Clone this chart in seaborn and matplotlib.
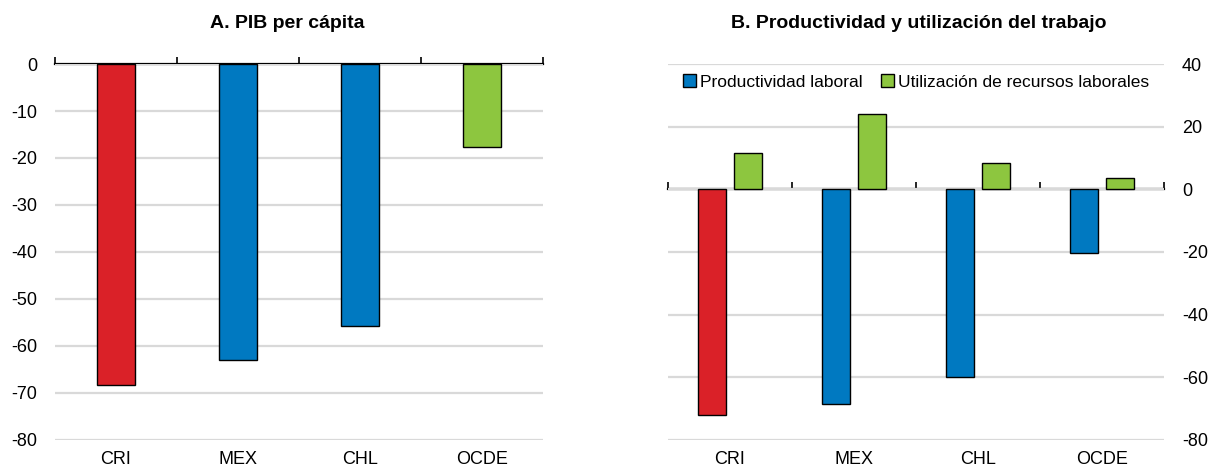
import pandas as pd
import seaborn as sns
import matplotlib.pyplot as plt
from matplotlib.patches import Patch

# data
countries = ['CRI', 'MEX', 'CHL', 'OCDE']
pib_per_capita = [-68.4, -63.0, -55.8, -17.6]
productividad = [-72.0, -68.6, -60.0, -20.4]
utilizacion = [11.6, 23.9, 8.5, 3.5]
series = ['Productividad laboral', 'Utilización de recursos laborales']

RED = '#DA2128'
BLUE = '#0079C1'
GREEN = '#8DC63F'
GRID = '#D9D9D9'

sns.set_style('white')
plt.rcParams['font.family'] = ['Liberation Sans', 'DejaVu Sans']
plt.rcParams['axes.unicode_minus'] = False
plt.rcParams['text.color'] = 'black'
plt.rcParams['xtick.color'] = 'black'
plt.rcParams['ytick.color'] = 'black'
plt.rcParams['axes.labelcolor'] = 'black'

TICK_SIZE = 13
TITLE_SIZE = 14


def style_axis(ax, ylim, yticks):
    ax.set_xlim(-0.5, len(countries) - 0.5)
    ax.set_ylim(*ylim)
    ax.set_yticks(yticks)
    ax.set_xlabel('')
    ax.set_ylabel('')
    for s in ax.spines.values():
        s.set_visible(False)
    ax.grid(axis='y', color=GRID, linewidth=1.6)
    ax.set_axisbelow(True)
    ax.tick_params(axis='both', length=0, labelsize=TICK_SIZE, labelcolor='black')
    ax.tick_params(axis='x', pad=8)
    ax.tick_params(axis='y', pad=13)
    # zero line with separator ticks between categories
    sec = ax.secondary_xaxis(0, transform=ax.transData)
    sec.set_xticks([i - 0.5 for i in range(len(countries) + 1)])
    sec.tick_params(direction='in', length=5, width=1.2, labelbottom=False, color='black')
    sec.spines['bottom'].set_linewidth(1.6)
    sec.spines['bottom'].set_color('black')


fig = plt.figure(figsize=(12.14, 4.69), dpi=100)
ax1 = fig.add_axes([0.0453, 0.062, 0.402, 0.8015])
ax2 = fig.add_axes([0.5502, 0.062, 0.4086, 0.8015])

# A. PIB per capita
left_pal = {'CRI': RED, 'MEX': BLUE, 'CHL': BLUE, 'OCDE': GREEN}
sns.barplot(x=countries, y=pib_per_capita, hue=countries, palette=left_pal,
            width=0.311, edgecolor='black', linewidth=1, saturation=1,
            legend=False, ax=ax1)
style_axis(ax1, (-80, 0), range(-80, 1, 10))
ax1.set_title('A. PIB per cápita', fontweight='bold', fontsize=TITLE_SIZE,
              x=0.475, pad=26, color='black')

# B. Productividad y utilizacion del trabajo
df = pd.DataFrame({
    'pais': countries * 2,
    'valor': productividad + utilizacion,
    'serie': [series[0]] * len(countries) + [series[1]] * len(countries),
})
sns.barplot(data=df, x='pais', y='valor', hue='serie', hue_order=series,
            palette=[BLUE, GREEN], width=0.58, gap=0.22, edgecolor='black',
            linewidth=1, saturation=1, legend=False, ax=ax2)
# Costa Rica highlighted in red
ax2.patches[0].set_facecolor(RED)
style_axis(ax2, (-80, 40), range(-80, 41, 20))
ax2.yaxis.tick_right()
ax2.tick_params(axis='y', length=0, pad=13)
ax2.set_title('B. Productividad y utilización del trabajo', fontweight='bold',
              fontsize=TITLE_SIZE, x=0.506, pad=26, color='black')

handles = [Patch(facecolor=BLUE, edgecolor='black'), Patch(facecolor=GREEN, edgecolor='black')]
ax2.legend(handles=handles, labels=series, loc='center', bbox_to_anchor=(0.5, 0.952),
           ncol=2, frameon=False, fontsize=12.5, handlelength=0.75, handleheight=0.75,
           handletextpad=0.2, columnspacing=1.1, borderaxespad=0)

plt.savefig('out.png', dpi=100)
